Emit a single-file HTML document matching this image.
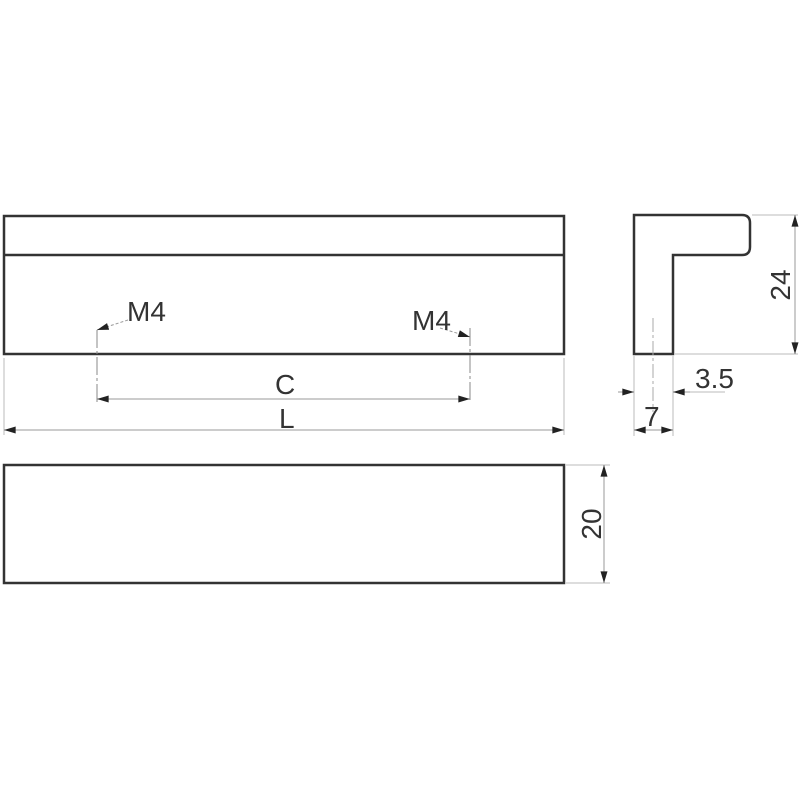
<!DOCTYPE html>
<html><head><meta charset="utf-8"><style>html,body{margin:0;padding:0;background:#fff}</style></head>
<body>
<svg width="800" height="800" viewBox="0 0 800 800" xmlns="http://www.w3.org/2000/svg" font-family="Liberation Sans, sans-serif">
<defs>
<marker id="a" viewBox="0 0 10 6" refX="10" refY="3" markerWidth="16" markerHeight="7" markerUnits="userSpaceOnUse" orient="auto-start-reverse"><path d="M0,0 L10,3 L0,6 Z" fill="#222"/></marker>
</defs>
<g fill="none" stroke="#333" stroke-width="2.5">
<rect x="4" y="216" width="560" height="138"/>
<line x1="4" y1="255" x2="564" y2="255"/>
<rect x="4" y="465" width="560" height="118"/>
<path d="M634,215 H742 Q750,215 750,223 V247 Q750,255 742,255 H673 V354 H634 Z"/>
</g>
<g stroke="#bbb" stroke-width="1" fill="none">
<line x1="4" y1="358" x2="4" y2="435"/>
<line x1="564" y1="358" x2="564" y2="435"/>
<line x1="97" y1="330" x2="97" y2="403" stroke-dasharray="18,3,3,3" stroke="#888"/>
<line x1="470" y1="328" x2="470" y2="403" stroke-dasharray="18,3,3,3" stroke="#888"/>
<line x1="566" y1="465" x2="610" y2="465"/>
<line x1="566" y1="583" x2="610" y2="583"/>
<line x1="752" y1="215" x2="798" y2="215"/>
<line x1="675" y1="354" x2="798" y2="354"/>
<line x1="634" y1="356" x2="634" y2="436"/>
<line x1="673" y1="356" x2="673" y2="436"/>
<line x1="653" y1="318" x2="653" y2="412" stroke-dasharray="14,3,3,3" stroke="#aaa"/>
<line x1="618" y1="392" x2="634" y2="392"/>
<line x1="673" y1="392" x2="725" y2="392"/>
</g>
<g stroke="#999" stroke-width="1" fill="none">
<line x1="97" y1="399" x2="470" y2="399" marker-start="url(#a)" marker-end="url(#a)"/>
<line x1="4" y1="430" x2="564" y2="430" marker-start="url(#a)" marker-end="url(#a)"/>
<line x1="604" y1="465" x2="604" y2="583" marker-start="url(#a)" marker-end="url(#a)"/>
<line x1="795" y1="215" x2="795" y2="354" marker-start="url(#a)" marker-end="url(#a)"/>
<line x1="634" y1="430" x2="673" y2="430" marker-start="url(#a)" marker-end="url(#a)"/>
<line x1="618" y1="392" x2="634" y2="392" marker-end="url(#a)"/>
<line x1="690" y1="392" x2="673" y2="392" marker-end="url(#a)"/>
<path d="M128,320 L97,330" stroke-dasharray="3,2" marker-end="url(#a)"/>
<path d="M440,328 L470,337" stroke-dasharray="3,2" marker-end="url(#a)"/>
</g>
<g fill="#333" font-size="28">
<text x="127" y="321">M4</text>
<text x="412" y="330">M4</text>
<text x="275" y="394">C</text>
<text x="279" y="428">L</text>
<text x="695" y="388">3.5</text>
<text x="644" y="426">7</text>
<text transform="translate(601,524) rotate(-90)" text-anchor="middle">20</text>
<text transform="translate(790,285) rotate(-90)" text-anchor="middle">24</text>
</g>
</svg>
</body></html>
